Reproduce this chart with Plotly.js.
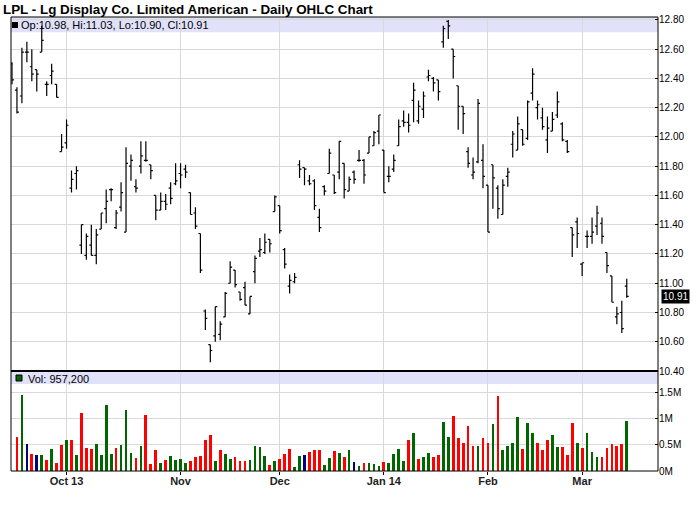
<!DOCTYPE html>
<html><head><meta charset="utf-8">
<script src="https://cdn.plot.ly/plotly-3.0.1.min.js"></script>
<style>html,body{margin:0;padding:0;background:#fff;}#chart{width:700px;height:512px;}</style>
</head><body><div id="chart"></div>
<script>
// ---- data ----
const firstDay = '2013-09-16';
const marketHolidays = ['2013-11-28','2013-12-25','2014-01-01','2014-01-20','2014-02-17'];

const openP = [12.50,12.32,12.28,12.58,12.48,12.46,12.58,12.36,12.42,12.36,
11.90,11.96,11.65,11.75,11.26,11.19,11.26,11.19,11.37,11.51,
11.64,11.38,11.52,11.35,11.80,11.66,11.80,11.84,11.81,11.60,
11.50,11.56,11.65,11.68,11.75,11.78,11.62,11.48,11.34,10.81,
10.58,10.64,10.65,10.77,11.00,11.09,10.94,10.97,10.79,11.08,
11.22,11.21,11.30,11.49,11.53,11.23,10.98,11.01,11.81,11.79,
11.70,11.70,11.45,11.66,11.75,11.74,11.76,11.82,11.63,11.76,
11.84,11.84,11.89,11.94,12.04,11.91,11.73,11.78,11.94,12.11,
12.10,12.25,12.11,12.19,12.41,12.40,12.39,12.65,12.79,12.60,
12.35,12.21,11.90,11.74,11.83,11.84,11.67,11.81,11.65,11.47,
11.73,11.95,11.91,12.05,11.99,12.30,12.20,12.13,11.98,12.04,
12.15,12.09,11.97,11.38,11.42,11.13,11.32,11.32,11.39,11.41,
11.21,11.05,10.77,10.80,10.98];
const highP = [12.51,12.34,12.61,12.65,12.60,12.46,12.76,12.38,12.50,12.36,
12.02,12.12,11.77,11.80,11.40,11.34,11.40,11.37,11.48,11.64,
11.65,11.50,11.69,11.93,11.88,11.71,11.97,11.97,11.81,11.60,
11.62,11.61,11.69,11.82,11.82,11.81,11.62,11.52,11.34,10.82,
10.58,10.84,10.74,10.94,11.15,11.09,10.94,11.01,10.91,11.19,
11.31,11.34,11.30,11.60,11.53,11.24,11.06,11.07,11.84,11.79,
11.74,11.71,11.51,11.67,11.92,11.74,11.97,11.82,11.73,11.77,
11.91,11.85,12.00,12.04,12.15,11.91,11.80,11.88,12.12,12.18,
12.16,12.37,12.25,12.31,12.46,12.41,12.39,12.76,12.80,12.60,
12.35,12.21,11.93,11.86,12.26,11.95,11.67,11.81,11.67,11.71,
11.79,12.04,12.14,12.05,12.25,12.47,12.25,12.20,12.14,12.17,
12.31,12.10,11.98,11.38,11.45,11.14,11.36,11.45,11.53,11.45,
11.21,11.05,10.84,10.88,11.03];
const lowP = [12.36,12.16,12.23,12.51,12.38,12.31,12.58,12.28,12.36,12.27,
11.90,11.92,11.62,11.64,11.20,11.16,11.19,11.13,11.37,11.41,
11.56,11.37,11.49,11.35,11.70,11.62,11.75,11.83,11.71,11.43,
11.50,11.50,11.54,11.67,11.65,11.72,11.47,11.37,11.07,10.68,
10.46,10.60,10.61,10.77,11.00,10.97,10.88,10.85,10.79,11.00,
11.18,11.20,11.21,11.49,11.34,11.10,10.93,11.00,11.72,11.67,
11.67,11.50,11.35,11.60,11.75,11.61,11.71,11.58,11.63,11.68,
11.83,11.68,11.89,11.94,11.95,11.62,11.69,11.76,11.94,12.07,
12.03,12.10,12.09,12.13,12.38,12.31,12.25,12.61,12.67,12.40,
12.05,12.02,11.79,11.71,11.82,11.65,11.35,11.51,11.44,11.47,
11.66,11.86,11.91,11.94,11.98,12.25,12.12,12.05,11.89,12.04,
12.13,11.97,11.89,11.18,11.24,11.05,11.24,11.27,11.33,11.27,
11.07,10.87,10.72,10.66,10.90];
const closeP = [12.39,12.17,12.58,12.58,12.43,12.43,12.66,12.36,12.45,12.27,
11.93,12.08,11.71,11.77,11.40,11.32,11.19,11.33,11.48,11.56,
11.64,11.48,11.62,11.82,11.84,11.65,11.87,11.84,11.77,11.50,
11.56,11.54,11.58,11.70,11.74,11.76,11.47,11.39,11.09,10.76,
10.54,10.84,10.72,10.93,11.11,10.99,10.89,10.85,10.91,11.17,
11.23,11.28,11.27,11.59,11.36,11.13,11.02,11.04,11.78,11.78,
11.68,11.53,11.38,11.63,11.89,11.62,11.97,11.64,11.71,11.71,
11.84,11.74,12.00,12.03,12.15,11.62,11.73,11.84,12.07,12.10,
12.08,12.32,12.21,12.28,12.42,12.37,12.31,12.74,12.76,12.55,
12.21,12.16,11.82,11.76,12.23,11.73,11.35,11.72,11.51,11.67,
11.76,12.02,12.09,11.95,12.24,12.43,12.22,12.07,12.06,12.12,
12.24,11.98,11.90,11.33,11.34,11.14,11.32,11.35,11.48,11.32,
11.12,10.87,10.79,10.69,10.91];
const volume = [null,650000,1440000,510000,320000,300000,300000,200000,410000,160000,
490000,580000,580000,300000,1100000,430000,410000,510000,300000,1250000,
320000,430000,490000,1150000,350000,240000,470000,1060000,130000,390000,
150000,200000,280000,210000,230000,150000,190000,270000,280000,590000,
680000,190000,400000,320000,230000,270000,190000,190000,210000,470000,
460000,280000,110000,190000,230000,320000,420000,80000,280000,300000,
360000,400000,400000,110000,250000,380000,340000,270000,390000,180000,
90000,150000,160000,130000,90000,180000,150000,320000,410000,190000,
580000,720000,220000,260000,350000,260000,300000,940000,640000,1040000,
620000,540000,850000,470000,470000,620000,540000,890000,1420000,390000,
470000,530000,1020000,410000,910000,720000,530000,390000,580000,680000,
450000,450000,300000,920000,540000,430000,720000,370000,260000,260000,
430000,510000,470000,510000,957200];

const monthTickDates = ['2013-10-01','2013-11-01','2013-12-02','2014-01-02','2014-02-03','2014-03-03'];
const monthTickLabels = ['Oct 13','Nov','Dec','Jan 14','Feb','Mar'];
const priceTicks = [10.40,10.60,10.80,11.00,11.20,11.40,11.60,11.80,12.00,12.20,12.40,12.60,12.80];
const volTicks = [0,500000,1000000,1500000];
const volTickLabels = ['0M','0.5M','1M','1.5M'];
const chartTitle = 'LPL - Lg Display Co. Limited American - Daily OHLC Chart';

// ---- trading-day categories ----
function tradingDays(start, n, hol) {
  const out = [];
  const d = new Date(start + 'T00:00:00Z');
  while (out.length < n) {
    const s = d.toISOString().slice(0, 10);
    const wd = d.getUTCDay();
    if (wd !== 0 && wd !== 6 && hol.indexOf(s) < 0) out.push(s);
    d.setUTCDate(d.getUTCDate() + 1);
  }
  return out;
}
const dates = tradingDays(firstDay, closeP.length, marketHolidays);

const UP = '#006600', DOWN = '#ff0000', SAME = '#000080';
const volColors = closeP.map((c, i) => i === 0 ? UP : (c > closeP[i-1] ? UP : (c < closeP[i-1] ? DOWN : SAME)));

// ---- geometry helpers (pixels -> paper) ----
const L = 11, T = 17, W = 647, H = 454;
const px = p => (p - L) / W;
const py = p => (T + H - p) / H;

const last = closeP.length - 1;
const legendText = 'Op:' + openP[last].toFixed(2) + ', Hi:' + highP[last].toFixed(2) +
  ', Lo:' + lowP[last].toFixed(2) + ', Cl:' + closeP[last].toFixed(2);
const volText = 'Vol: ' + volume[last].toLocaleString('en-US');

const grid = '#d9d9d9';
const traces = [
  {type: 'ohlc', x: dates, open: openP, high: highP, low: lowP, close: closeP,
   xaxis: 'x', yaxis: 'y', tickwidth: 0.4, hoverinfo: 'skip',
   increasing: {line: {color: '#000', width: 1.2}},
   decreasing: {line: {color: '#000', width: 1.2}}},
  {type: 'bar', x: dates, y: volume, xaxis: 'x', yaxis: 'y2', width: 0.55,
   marker: {color: volColors, line: {width: 0}}, hoverinfo: 'skip'}
];

const layout = {
  width: 700, height: 512,
  margin: {l: L, r: 700 - L - W, t: T, b: 512 - T - H},
  paper_bgcolor: '#fff', plot_bgcolor: '#fff',
  showlegend: false,
  font: {family: 'Liberation Sans, Arial, sans-serif', size: 10, color: '#000'},
  title: {text: '<b>' + chartTitle + '</b>', xref: 'container', yref: 'container',
    x: 3 / 700, xanchor: 'left', y: 1 - 9 / 512, yanchor: 'middle',
    font: {family: 'Liberation Sans, Arial, sans-serif', size: 13.4, color: '#000'}},
  xaxis: {type: 'category', range: [-0.2, 130.3], anchor: 'y2',
    tickmode: 'array', tickvals: monthTickDates, ticktext: monthTickLabels,
    ticks: 'outside', ticklen: 3, tickcolor: '#000', showgrid: true, gridcolor: grid, gridwidth: 1,
    ticklabelstandoff: -3,
    showline: false, zeroline: false, rangeslider: {visible: false}, fixedrange: true,
    tickfont: {family: 'Liberation Sans, Arial, sans-serif', size: 11, color: '#222', weight: 'bold'}},
  yaxis: {domain: [py(371), 1], range: [10.40, 12.82], side: 'right', anchor: 'x',
    tickmode: 'array', tickvals: priceTicks, ticktext: priceTicks.map(v => v.toFixed(2)),
    ticks: 'inside', ticklen: 3, tickcolor: '#000', showgrid: true, gridcolor: grid,
    zeroline: false, showline: false, fixedrange: true},
  yaxis2: {domain: [0, py(372)], range: [0, 1880000], side: 'right', anchor: 'x',
    tickmode: 'array', tickvals: volTicks, ticktext: volTickLabels,
    ticks: 'inside', ticklen: 3, tickcolor: '#000', showgrid: true, gridcolor: grid,
    zeroline: false, showline: false, fixedrange: true},
  bargap: 0,
  shapes: [
    {type: 'rect', xref: 'paper', yref: 'paper', x0: 0, x1: 1, y0: py(32.3), y1: 1,
     fillcolor: '#e1e1f9', line: {width: 0}, layer: 'below'},
    {type: 'rect', xref: 'paper', yref: 'paper', x0: 0, x1: 1, y0: py(384), y1: py(372),
     fillcolor: '#e1e1f9', line: {width: 0}, layer: 'below'},
    {type: 'line', xref: 'paper', yref: 'paper', x0: 0, x1: 0, y0: 0, y1: 1, line: {color: '#000', width: 1}},
    {type: 'line', xref: 'paper', yref: 'paper', x0: 1, x1: 1, y0: 0, y1: 1, line: {color: '#000', width: 1}},
    {type: 'line', xref: 'paper', yref: 'paper', x0: 0, x1: 1, y0: 1, y1: 1, line: {color: '#000', width: 1}},
    {type: 'line', xref: 'paper', yref: 'paper', x0: 0, x1: 1, y0: 0, y1: 0, line: {color: '#000', width: 1}},
    {type: 'line', xref: 'paper', yref: 'paper', x0: 0, x1: 1, y0: py(371), y1: py(371), line: {color: '#000', width: 2}},
    {type: 'rect', xref: 'paper', yref: 'paper', x0: px(12), x1: px(18), y0: py(28), y1: py(22),
     fillcolor: '#000', line: {width: 0}},
    {type: 'rect', xref: 'paper', yref: 'paper', x0: px(16), x1: px(22), y0: py(381), y1: py(375),
     fillcolor: UP, line: {color: '#000', width: 1}}
  ],
  annotations: [
    {xref: 'paper', yref: 'paper', x: px(19), y: py(25), xanchor: 'left', yanchor: 'middle',
     text: legendText, showarrow: false, font: {size: 11, color: '#000'}},
    {xref: 'paper', yref: 'paper', x: px(25.5), y: py(378.5), xanchor: 'left', yanchor: 'middle',
     text: volText, showarrow: false, font: {size: 11, color: '#000'}},
    {xref: 'paper', yref: 'y', x: 1, y: closeP[last], xanchor: 'left', yanchor: 'middle', xshift: 3,
     text: closeP[last].toFixed(2), showarrow: false, bgcolor: '#000', borderpad: 1,
     font: {size: 10, color: '#fff'}}
  ]
};

Plotly.newPlot('chart', traces, layout, {staticPlot: true, displayModeBar: false});
</script>
</body></html>
